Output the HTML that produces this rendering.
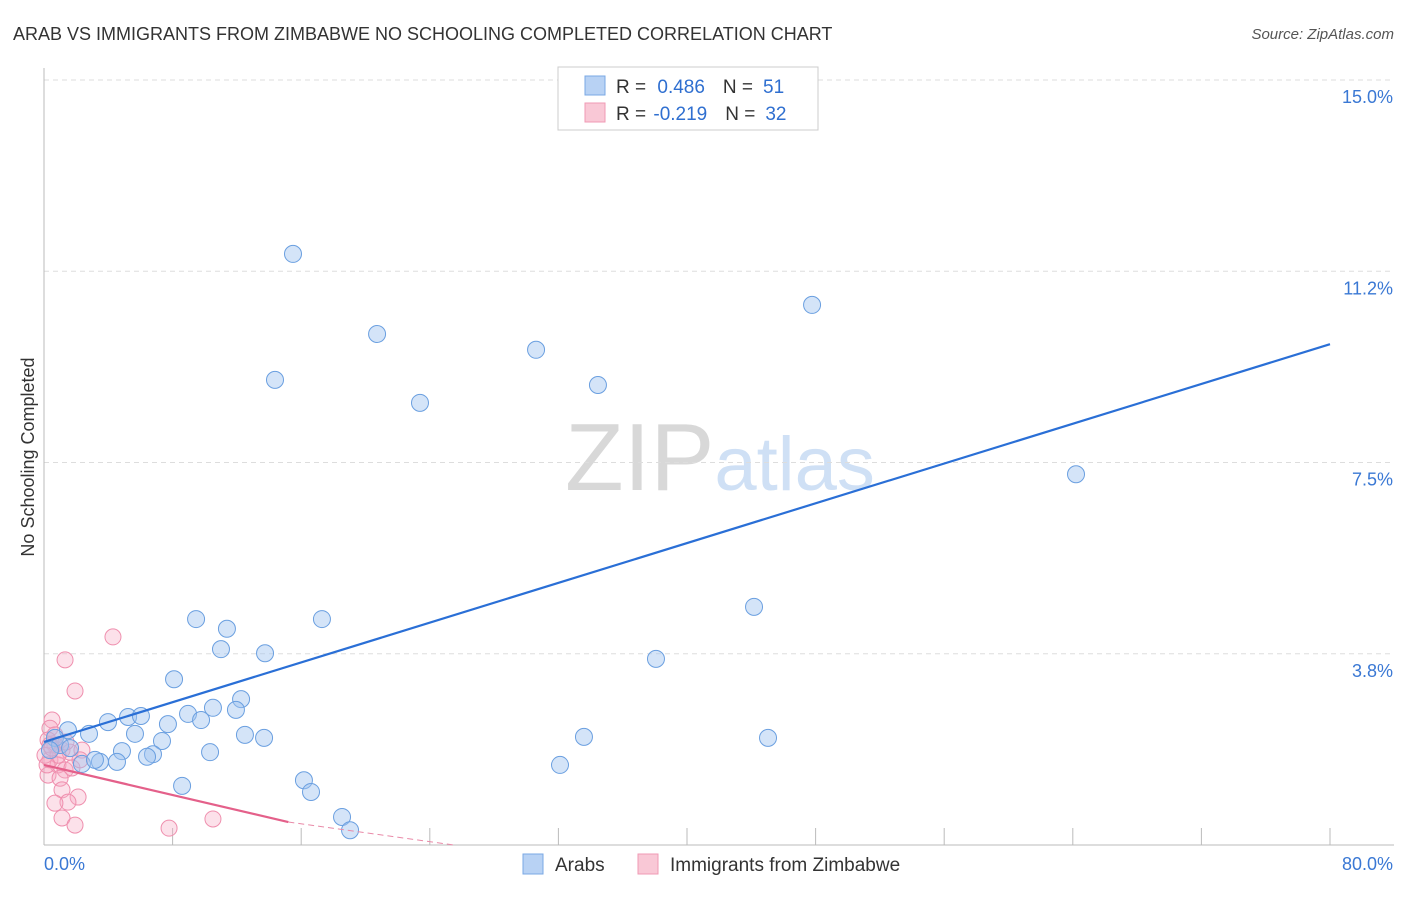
<!DOCTYPE html>
<html><head><meta charset="utf-8"><style>
body{margin:0;background:#fff;font-family:"Liberation Sans",sans-serif;}
svg text{font-family:"Liberation Sans",sans-serif;}
</style></head><body>
<svg id="chart" width="1406" height="892" viewBox="0 0 1406 892" xmlns="http://www.w3.org/2000/svg">
<text x="13" y="40" font-size="18" fill="#333">ARAB VS IMMIGRANTS FROM ZIMBABWE NO SCHOOLING COMPLETED CORRELATION CHART</text>
<text x="1394" y="39" font-size="15" fill="#555" text-anchor="end" font-style="italic">Source: ZipAtlas.com</text>
<text transform="translate(34,457) rotate(-90)" font-size="18" fill="#333" text-anchor="middle">No Schooling Completed</text>
<text x="720" y="490" font-size="96" text-anchor="middle" fill="#ddd" font-family="Liberation Serif"><tspan fill="#d8d8d8">ZIP</tspan><tspan fill="#cfe0f5" font-family="Liberation Sans" font-size="76">atlas</tspan></text>
<g id="grid"></g>
<g id="axes"></g>
<g id="pts"></g>
<g id="trend"></g>
<g>
<rect x="558" y="67" width="260" height="63" fill="#fff" stroke="#ccc"/>
<rect x="585" y="76" width="20" height="19" fill="#b8d2f4" stroke="#7aa8e4"/>
<rect x="585" y="103" width="20" height="19" fill="#f9c8d6" stroke="#f09ab4"/>
<text x="616" y="93" font-size="19" fill="#333">R = <tspan fill="#2f6fd0" dx="6">0.486</tspan><tspan dx="18" fill="#333">N =</tspan><tspan fill="#2f6fd0" dx="10">51</tspan></text>
<text x="616" y="120" font-size="19" fill="#333">R = <tspan fill="#2f6fd0" dx="2">-0.219</tspan><tspan dx="18" fill="#333">N =</tspan><tspan fill="#2f6fd0" dx="10">32</tspan></text>
</g>
<g>
<rect x="523" y="854" width="20" height="20" fill="#b8d2f4" stroke="#7aa8e4"/>
<text x="555" y="871" font-size="19" fill="#333">Arabs</text>
<rect x="638" y="854" width="20" height="20" fill="#f9c8d6" stroke="#f09ab4"/>
<text x="670" y="871" font-size="19" fill="#333">Immigrants from Zimbabwe</text>
</g>
</svg>
<script>
const blueX=[15.49,20.72,47.78,14.37,30.61,34.46,23.39,64.20,9.46,11.38,17.29,44.17,11.01,13.75,38.07,8.09,12.26,10.51,11.94,8.96,9.77,5.23,6.03,3.98,7.71,5.66,2.80,1.49,7.34,12.50,13.69,33.59,45.04,4.85,6.78,6.41,10.33,3.48,4.54,2.36,32.10,3.17,16.17,16.61,8.59,18.54,19.04,0.68,1.00,0.37,1.62];
const blueY=[11.59,10.02,10.59,9.12,9.71,9.02,8.67,7.27,4.43,4.24,4.43,4.67,3.84,3.76,3.65,3.25,2.86,2.69,2.65,2.57,2.45,2.51,2.53,2.41,2.37,2.18,2.18,2.25,2.04,2.16,2.10,2.12,2.10,1.84,1.78,1.73,1.82,1.63,1.63,1.59,1.57,1.67,1.27,1.04,1.16,0.55,0.29,2.10,1.96,1.86,1.90];
const pinkX=[4.29,1.31,1.93,0.50,0.37,0.25,0.68,1.12,1.62,2.36,0.37,0.87,1.31,0.25,1.00,1.74,1.12,2.12,1.49,0.68,1.12,1.93,7.78,10.51,0.37,0.68,0.06,2.24,0.87,0.19,0.50,1.37];
const pinkY=[4.08,3.63,3.02,2.45,2.29,2.06,1.96,1.86,1.82,1.86,1.67,1.57,1.47,1.37,1.31,1.51,1.08,0.94,0.84,0.82,0.53,0.39,0.33,0.51,1.96,2.16,1.76,1.67,1.76,1.57,1.90,2.02];
const yTicks=[3.75,7.5,11.25,15];
const yTickLabels=["3.8%","7.5%","11.2%","15.0%"];
const xTicks=[0,8,16,24,32,40,48,56,64,72,80];
const blueTrend=[[0,2.02],[80,9.82]];
const pinkTrend=[[0,1.57],[15.2,0.45]];
const pinkDash=[[15.2,0.45],[25.5,0]];
const NS="http://www.w3.org/2000/svg";
const sx=v=>44+v/80*1286, sy=v=>845-v/15*765;
function mk(t,a,p){const e=document.createElementNS(NS,t);for(const k in a)e.setAttribute(k,a[k]);p.appendChild(e);return e;}
const grid=document.getElementById('grid'),axes=document.getElementById('axes'),pts=document.getElementById('pts'),tr=document.getElementById('trend');
yTicks.forEach((v,i)=>{
 const l=mk('line',{x1:44,x2:1394,y1:sy(v),y2:sy(v),stroke:'#ddd','stroke-dasharray':'5,4'},grid);
 
 
 const t=mk('text',{x:1393,y:sy(v)+23,'font-size':18,fill:'#3a78d4','text-anchor':'end'},axes);
 t.textContent=yTickLabels[i];
 
 
});
mk('line',{x1:44,x2:44,y1:68,y2:845,stroke:'#bbb'},axes);
mk('line',{x1:44,x2:1394,y1:845,y2:845,stroke:'#bbb'},axes);
xTicks.forEach(v=>{if(v>0){const l=mk('line',{x1:sx(v),x2:sx(v),y1:828,y2:845,stroke:'#bbb'},axes);
 
 }});
const x0=mk('text',{x:44,y:870,'font-size':18,fill:'#3a78d4'},axes);x0.textContent="0.0%";


const x1=mk('text',{x:1393,y:870,'font-size':18,fill:'#3a78d4','text-anchor':'end'},axes);x1.textContent="80.0%";


pinkX.forEach((x,i)=>{const c=mk('circle',{cx:sx(x),cy:sy(pinkY[i]),r:8,fill:'rgba(246,168,194,0.35)',stroke:'#ef8fae','stroke-width':1},pts);
 
 });
blueX.forEach((x,i)=>{const c=mk('circle',{cx:sx(x),cy:sy(blueY[i]),r:8.5,fill:'rgba(160,196,240,0.45)',stroke:'#6a9fe0','stroke-width':1},pts);
 
 });
const bl=mk('line',{x1:sx(blueTrend[0][0]),y1:sy(blueTrend[0][1]),x2:sx(blueTrend[1][0]),y2:sy(blueTrend[1][1]),stroke:'#2a6fd6','stroke-width':2.2},tr);


const pl=mk('line',{x1:sx(pinkTrend[0][0]),y1:sy(pinkTrend[0][1]),x2:sx(pinkTrend[1][0]),y2:sy(pinkTrend[1][1]),stroke:'#e4608a','stroke-width':2.2},tr);


const pd=mk('line',{x1:sx(pinkDash[0][0]),y1:sy(pinkDash[0][1]),x2:sx(pinkDash[1][0]),y2:sy(pinkDash[1][1]),stroke:'#e98aa8','stroke-width':1,'stroke-dasharray':'6,4'},tr);


</script>
</body></html>
